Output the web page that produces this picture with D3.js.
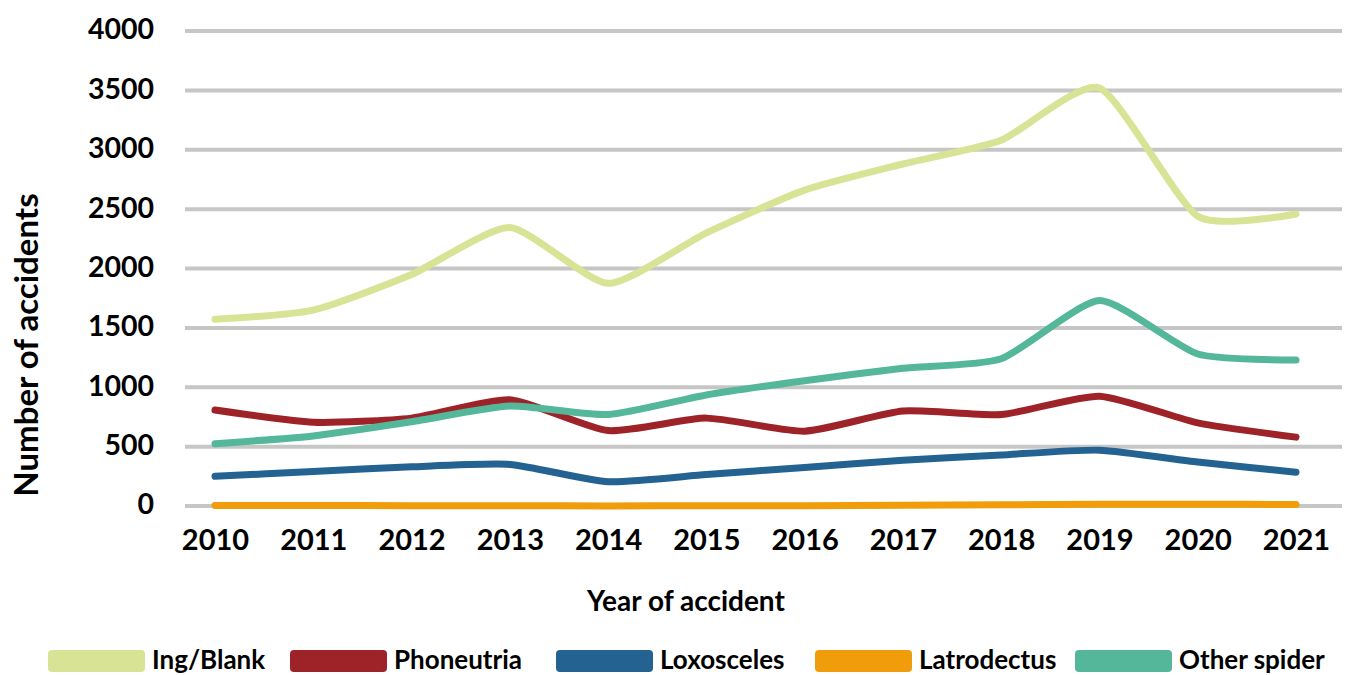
<!DOCTYPE html>
<html>
<head>
<meta charset="utf-8">
<script src="https://cdn.jsdelivr.net/npm/d3@7/dist/d3.min.js"></script>
<style>
  body { margin: 0; background: #fff; }
  svg { display: block; }
  text { font-family: Lato, "Open Sans", sans-serif; font-weight: 700; fill: #000; }
</style>
</head>
<body>
<svg id="chart" width="1357" height="675"></svg>
<script>
var years = [2010, 2011, 2012, 2013, 2014, 2015, 2016, 2017, 2018, 2019, 2020, 2021];
var yTicks = [0, 500, 1000, 1500, 2000, 2500, 3000, 3500, 4000];

var ingBlank    = [1572, 1650, 1950, 2345, 1875, 2300, 2660, 2880, 3080, 3520, 2440, 2459];
var phoneutria  = [808, 705, 740, 895, 635, 740, 630, 800, 770, 925, 700, 580];
var loxosceles  = [250, 290, 330, 350, 205, 265, 325, 385, 430, 470, 370, 285];
var latrodectus = [5, 4, 3, 2, 1, 2, 3, 6, 10, 15, 15, 12];
var otherSpider = [525, 590, 710, 842, 770, 935, 1055, 1160, 1240, 1730, 1280, 1230];

var seriesNames  = ['Ing/Blank', 'Phoneutria', 'Loxosceles', 'Latrodectus', 'Other spider'];
var seriesValues = [ingBlank, phoneutria, loxosceles, latrodectus, otherSpider];
var seriesColors = ['#d8e396', '#9e2328', '#246292', '#f09c0b', '#54b79a'];

var svg = d3.select('#chart');

var x = d3.scalePoint().domain(years).range([215, 1296]);
var y = d3.scaleLinear().domain([0, 4000]).range([506, 31]);

// gridlines
svg.append('g').attr('class', 'grid')
    .selectAll('line')
    .data(yTicks)
    .enter()
    .append('line')
    .attr('x1', 185)
    .attr('x2', 1342)
    .attr('y1', function (d) { return y(d); })
    .attr('y2', function (d) { return y(d); })
    .style('stroke', '#c6c6c6')
    .style('stroke-width', 4);

// y axis labels
var yAxis = svg.append('g')
    .attr('transform', 'translate(154,0)')
    .call(d3.axisLeft(y).tickValues(yTicks).tickSize(0).tickPadding(0).tickFormat(d3.format('d')));
yAxis.select('.domain').remove();
yAxis.selectAll('text')
    .style('font-size', '28.5px')
    .style('font-family', 'Lato, sans-serif')
    .style('font-weight', 700)
    .attr('dy', '0.28em');

// x axis labels
var xAxis = svg.append('g')
    .attr('transform', 'translate(0,529)')
    .call(d3.axisBottom(x).tickSize(0).tickPadding(0));
xAxis.select('.domain').remove();
xAxis.selectAll('text')
    .style('font-size', '29px')
    .style('font-family', 'Lato, sans-serif')
    .style('font-weight', 700)
    .attr('dy', '0.71em');

// axis titles
svg.append('text')
    .attr('x', 686)
    .attr('y', 611)
    .attr('text-anchor', 'middle')
    .style('font-size', '28px')
    .text('Year of accident');

svg.append('text')
    .attr('transform', 'translate(38,345) rotate(-90)')
    .attr('text-anchor', 'middle')
    .style('font-size', '33px')
    .text('Number of accidents');

// lines
var line = d3.line()
    .x(function (d, i) { return x(years[i]); })
    .y(function (d) { return y(d); })
    .curve(d3.curveCardinal.tension(0.4));

svg.append('g').attr('class', 'lines')
    .selectAll('path')
    .data(seriesValues)
    .enter()
    .append('path')
    .attr('d', line)
    .style('fill', 'none')
    .style('stroke', function (d, i) { return seriesColors[i]; })
    .style('stroke-width', 7)
    .style('stroke-linecap', 'round')
    .style('stroke-linejoin', 'round');

// legend
var legendX = [48, 290, 556, 815, 1075];
var legend = svg.append('g').attr('class', 'legend')
    .selectAll('g')
    .data(seriesNames)
    .enter()
    .append('g')
    .attr('transform', function (d, i) { return 'translate(' + legendX[i] + ',650)'; });

legend.append('rect')
    .attr('width', 97)
    .attr('height', 22)
    .attr('rx', 4)
    .style('fill', function (d, i) { return seriesColors[i]; });

legend.append('text')
    .attr('x', 104)
    .attr('y', 19)
    .style('font-size', '26px')
    .text(function (d) { return d; });
</script>
</body>
</html>
